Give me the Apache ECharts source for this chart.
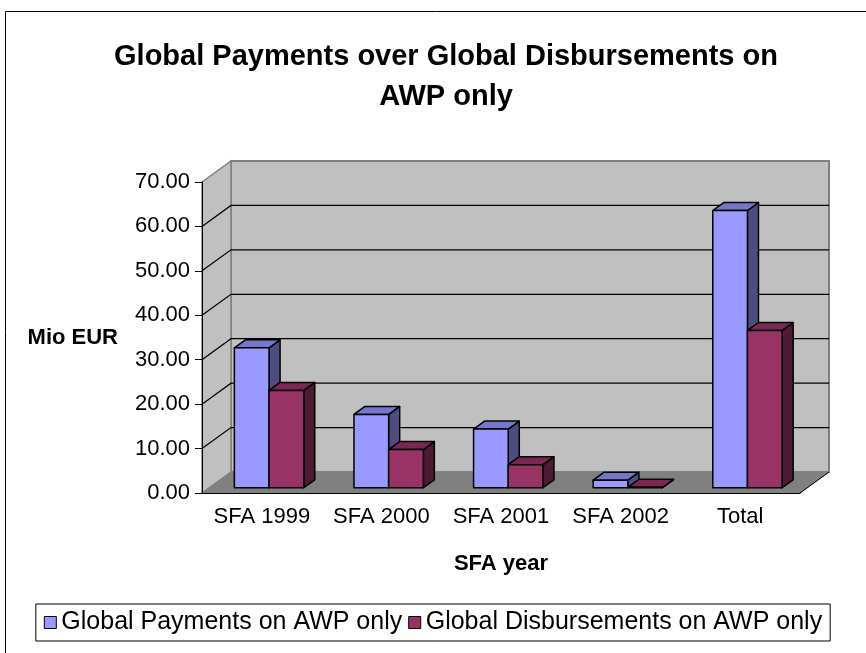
<!DOCTYPE html>
<html>
<head>
<meta charset="utf-8">
<title>Global Payments over Global Disbursements on AWP only</title>
<script src="https://cdn.jsdelivr.net/npm/echarts@6/dist/echarts.min.js"></script>
<style>
  html, body { margin: 0; padding: 0; background: #fff; }
  #main { width: 866px; height: 653px; }
</style>
</head>
<body>
<div id="main"></div>
<script>
var categories = ['SFA 1999', 'SFA 2000', 'SFA 2001', 'SFA 2002', 'Total'];
var payments = [31.5, 16.5, 13.2, 1.7, 62.4];
var disbursements = [21.9, 8.6, 5.2, 0.1, 35.4];
var yTicks = [0, 10, 20, 30, 40, 50, 60, 70];

// fake 3d depth (px) of the box and where the bars sit inside it
var DX = 29, DY = -21;
var barFront = 0.25, barBack = 0.63;
var barShare = 0.29;

var blueFaces = ['#9999ff', '#7676cc', '#4d4d80'];
var redFaces = ['#993366', '#7a2952', '#4d1a33'];

function barRenderer(side, faces) {
  return function (params, api) {
    var i = api.value(0), v = api.value(1);
    var base = api.coord([i, 0]);
    var top = api.coord([i, v]);
    var bw = api.size([1, 0])[0] * barShare;
    var x0 = side === 0 ? base[0] - bw : base[0];
    var x1 = x0 + bw;
    var fx = DX * barFront, fy = DY * barFront;
    var bx = DX * barBack, by = DY * barBack;
    var yt = top[1], yb = base[1];
    var line = { stroke: '#000', lineWidth: 1.5, lineJoin: 'round' };
    return {
      type: 'group',
      children: [
        { type: 'polygon', shape: { points: [[x1 + fx, yt + fy], [x1 + bx, yt + by], [x1 + bx, yb + by], [x1 + fx, yb + fy]] },
          style: Object.assign({ fill: faces[2] }, line) },
        { type: 'polygon', shape: { points: [[x0 + fx, yt + fy], [x1 + fx, yt + fy], [x1 + bx, yt + by], [x0 + bx, yt + by]] },
          style: Object.assign({ fill: faces[1] }, line) },
        { type: 'polygon', shape: { points: [[x0 + fx, yt + fy], [x1 + fx, yt + fy], [x1 + fx, yb + fy], [x0 + fx, yb + fy]] },
          style: Object.assign({ fill: faces[0] }, line) }
      ]
    };
  };
}

function wallRenderer(params, api) {
  var cs = params.coordSys;
  var gx = cs.x, gy = cs.y, gw = cs.width, gh = cs.height;
  var kids = [];
  // back wall
  kids.push({ type: 'rect', shape: { x: gx + DX, y: gy + DY, width: gw, height: gh },
    style: { fill: '#c0c0c0', stroke: '#808080', lineWidth: 2 } });
  // left wall
  kids.push({ type: 'polygon', shape: { points: [[gx, gy], [gx + DX, gy + DY], [gx + DX, gy + gh + DY], [gx, gy + gh]] },
    style: { fill: '#c0c0c0', stroke: '#808080', lineWidth: 1.5 } });
  // floor
  kids.push({ type: 'polygon', shape: { points: [[gx, gy + gh], [gx + gw, gy + gh], [gx + gw + DX, gy + gh + DY], [gx + DX, gy + gh + DY]] },
    style: { fill: '#808080', stroke: '#808080', lineWidth: 1 } });
  kids.push({ type: 'line', shape: { x1: gx + gw, y1: gy + gh, x2: gx + gw + DX, y2: gy + gh + DY },
    style: { stroke: '#000', lineWidth: 1 } });
  // gridlines
  yTicks.forEach(function (t) {
    if (t === 0 || t === yTicks[yTicks.length - 1]) return;
    var y = api.coord([0, t])[1];
    kids.push({ type: 'polyline', shape: { points: [[gx, y], [gx + DX, y + DY], [gx + gw + DX, y + DY]] },
      style: { stroke: '#000', lineWidth: 1.2, fill: null } });
  });
  return { type: 'group', children: kids };
}

var chart = echarts.init(document.getElementById('main'));
chart.setOption({
  animation: false,
  backgroundColor: '#fff',
  textStyle: { fontFamily: 'Liberation Sans, Arial, sans-serif' },
  title: {
    text: 'Global Payments over Global Disbursements on\nAWP only',
    left: 441,
    top: 32,
    textAlign: 'center',
    textStyle: { fontSize: 29, fontWeight: 'bold', color: '#000', lineHeight: 40 }
  },
  legend: {
    data: [
      { name: 'Global Payments on AWP only', icon: 'rect' },
      { name: 'Global Disbursements on AWP only', icon: 'rect' }
    ],
    left: 'center',
    top: 604,
    itemWidth: 12,
    itemHeight: 12,
    itemGap: 6,
    padding: [6, 8],
    borderColor: '#000',
    borderWidth: 1,
    itemStyle: { borderColor: '#000', borderWidth: 1 },
    textStyle: { fontSize: 25, color: '#000' }
  },
  graphic: [{
    type: 'rect',
    shape: { x: 5.5, y: 11.5, width: 900, height: 700 },
    style: { fill: null, stroke: '#000', lineWidth: 1 },
    silent: true
  }],
  grid: { left: 202, right: 66, top: 182, bottom: 160 },
  xAxis: {
    type: 'category',
    data: categories,
    z: 5,
    name: 'SFA year',
    nameLocation: 'middle',
    nameGap: 60,
    nameTextStyle: { fontSize: 22, fontWeight: 'bold', color: '#000' },
    axisLine: { lineStyle: { color: '#000', width: 1 } },
    axisTick: { length: 7, lineStyle: { color: '#000' } },
    axisLabel: { fontSize: 22, color: '#000', margin: 13, interval: 0, hideOverlap: false },
    splitLine: { show: false }
  },
  yAxis: {
    type: 'value',
    min: 0,
    max: 70,
    interval: 10,
    z: 5,
    name: 'Mio EUR',
    nameLocation: 'middle',
    nameRotate: 0,
    nameGap: 84,
    nameTextStyle: { fontSize: 22, fontWeight: 'bold', color: '#000' },
    axisLine: { show: true, lineStyle: { color: '#000', width: 1 } },
    axisTick: { show: true, length: 7, lineStyle: { color: '#000' } },
    axisLabel: { fontSize: 22, color: '#000', margin: 12, formatter: function (v) { return v.toFixed(2); } },
    splitLine: { show: false }
  },
  series: [
    { type: 'custom', name: 'walls', silent: true, z: 1, data: [[0, 0]], renderItem: wallRenderer },
    {
      type: 'custom', name: 'Global Payments on AWP only', z: 2,
      itemStyle: { color: blueFaces[0] },
      encode: { x: 0, y: 1 },
      data: payments.map(function (v, i) { return [i, v]; }),
      renderItem: barRenderer(0, blueFaces)
    },
    {
      type: 'custom', name: 'Global Disbursements on AWP only', z: 3,
      itemStyle: { color: redFaces[0] },
      encode: { x: 0, y: 1 },
      data: disbursements.map(function (v, i) { return [i, v]; }),
      renderItem: barRenderer(1, redFaces)
    }
  ]
});
</script>
</body>
</html>
